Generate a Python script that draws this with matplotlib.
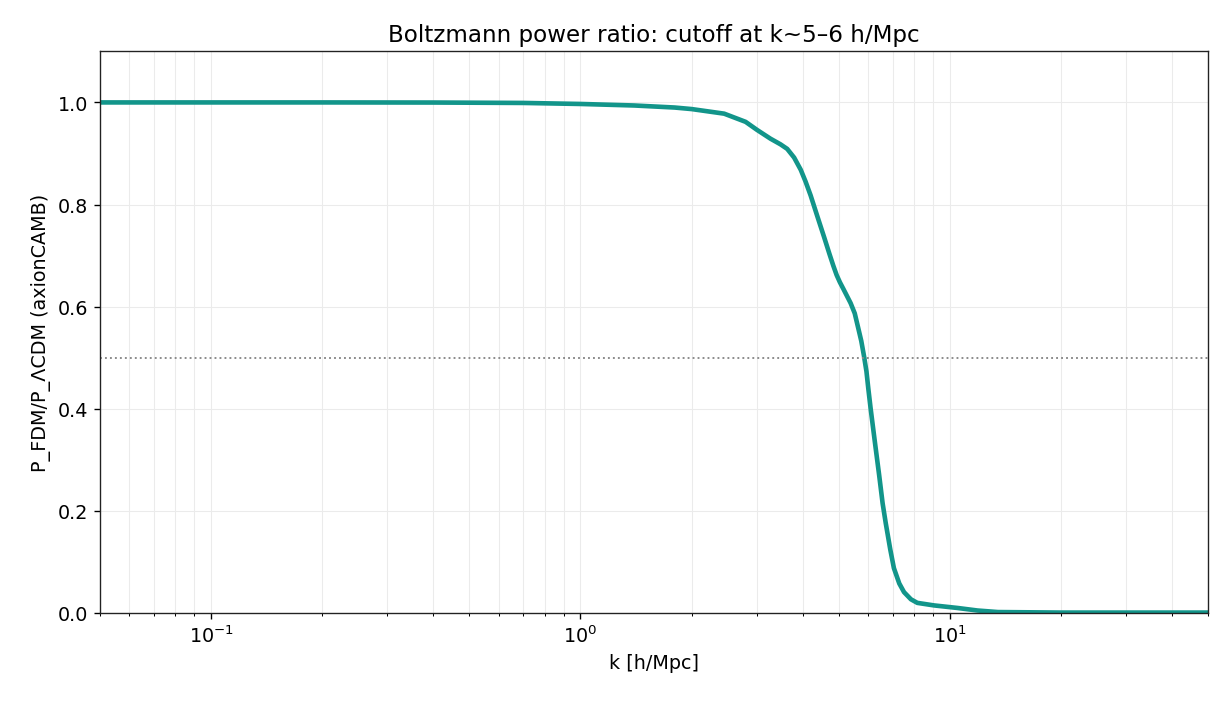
import numpy as np
import matplotlib
matplotlib.use("Agg")
import matplotlib.pyplot as plt

# values
k = [0.05, 0.1, 0.2, 0.4, 0.7, 1.0, 1.4, 1.8, 2.0, 2.45, 2.8, 3.01, 3.27, 3.48,
     3.63, 3.79, 3.95, 4.07, 4.20, 4.38, 4.57, 4.72, 4.84, 4.94, 5.04, 5.15,
     5.26, 5.39, 5.53, 5.64, 5.76, 5.86, 5.95, 6.02, 6.11, 6.27, 6.44, 6.58,
     6.71, 6.9, 7.06, 7.3, 7.52, 7.85, 8.17, 9.07, 10.5, 11.9, 13.5, 20.0, 50.0]
ratio = [1.0, 1.0, 1.0, 0.9998, 0.999, 0.997, 0.994, 0.99, 0.987, 0.978, 0.962,
         0.946, 0.929, 0.918, 0.909, 0.892, 0.868, 0.845, 0.818, 0.777, 0.736,
         0.704, 0.680, 0.662, 0.648, 0.635, 0.622, 0.607, 0.587, 0.561, 0.533,
         0.503, 0.473, 0.439, 0.399, 0.335, 0.270, 0.215, 0.176, 0.125, 0.088,
         0.058, 0.041, 0.027, 0.020, 0.015, 0.010, 0.005, 0.002, 0.001, 0.001]

plt.rcParams['font.size'] = 11.2
fig = plt.figure(figsize=(10, 5.73), dpi=123)
ax = fig.add_axes([0.0813, 0.129, 0.9007, 0.797])

ax.semilogx(k, ratio, color='#12958a', lw=2.7)
ax.axhline(0.5, color='#888888', ls=':', lw=1.1)

ax.set_xlim(0.05, 50)
ax.set_ylim(0, 1.1)
ax.grid(True, which='both', color='#ebebeb', lw=0.6)
for s in ax.spines.values():
    s.set_color('#222222')
ax.set_xlabel('k [h/Mpc]')
ax.set_ylabel('P_FDM/P_ΛCDM (axionCAMB)')
ax.set_title('Boltzmann power ratio: cutoff at k~5–6 h/Mpc')

fig.savefig('out.png', dpi=123)
